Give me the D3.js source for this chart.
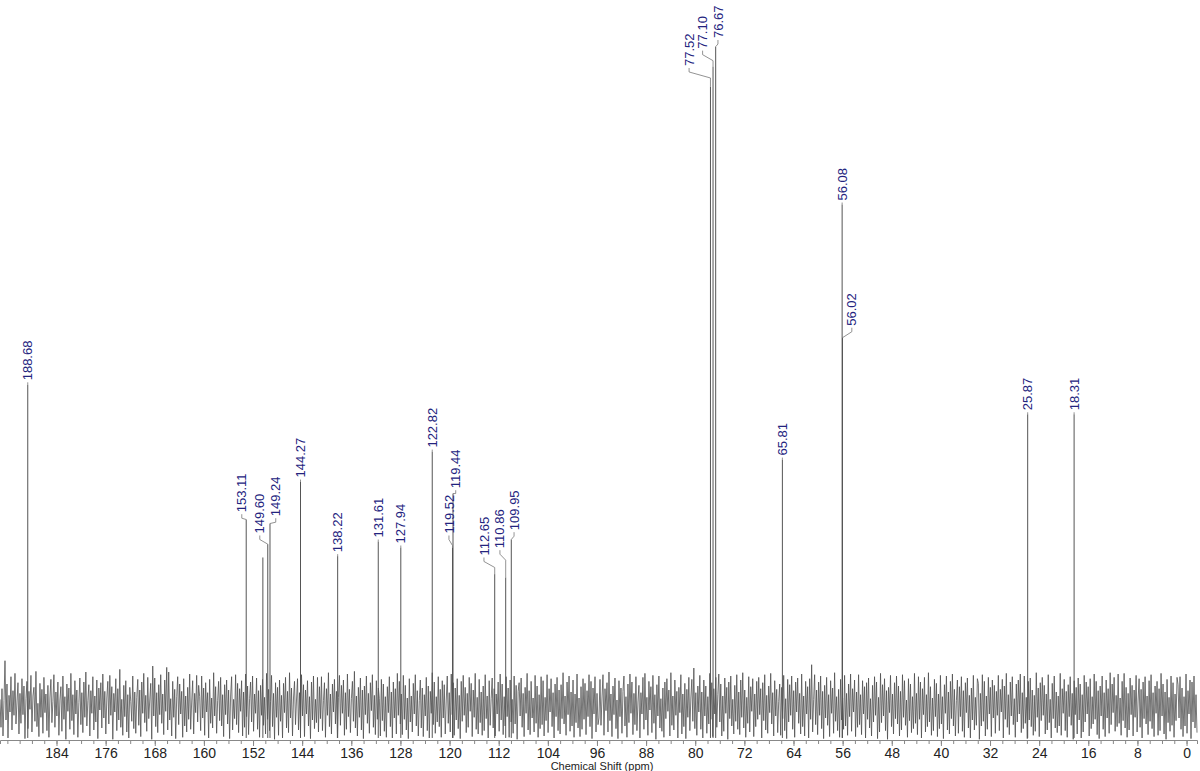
<!DOCTYPE html>
<html>
<head>
<meta charset="utf-8">
<script src="https://cdn.jsdelivr.net/npm/d3@7"></script>
<style>
  html, body { margin: 0; padding: 0; background: #fff; }
  svg { display: block; }
</style>
</head>
<body>
<svg id="chart" width="1200" height="771"></svg>
<script>
// Peaks: position (ppm) and height (intensity units, baseline = 0)
const peakPpm = [188.68, 153.11, 150.40, 149.60, 149.24, 144.27, 138.22, 131.61, 127.94, 122.82,
                 119.52, 119.44, 112.65, 110.86, 109.95, 77.52, 77.10, 76.67, 65.81, 56.08,
                 56.02, 25.87, 18.31];
const peakHeight = [482, 280, 223, 243, 274, 337, 225, 247, 238, 382,
                    238, 319, 198, 193, 250, 930, 960, 990, 370, 753,
                    553, 438, 438];

// Peak labels: text, where the label sits (ppm) and the level of its lower end
const labelText = ['188.68', '153.11', null, '149.60', '149.24', '144.27', '138.22', '131.61', '127.94', '122.82',
                   '119.52', '119.44', '112.65', '110.86', '109.95', '77.52', '77.10', '76.67', '65.81', '56.08',
                   '56.02', '25.87', '18.31'];
const labelPpm = [188.68, 153.83, null, 150.9, 148.3, 144.27, 138.22, 131.61, 127.94, 122.82,
                  120.1, 119.0, 114.4, 111.8, 109.5, 81.0, 78.8, 76.3, 65.81, 56.08,
                  54.5, 25.87, 18.31];
const labelLevel = [489, 291, null, 259, 285, 343, 231, 253, 244, 388,
                    259, 327, 226, 237, 264, 961, 987, 1003, 376, 759,
                    571, 444, 444];

// Axis tick labels (ppm)
const tickLabels = [184, 176, 168, 160, 152, 144, 136, 128, 120, 112, 104, 96, 88, 80, 72, 64, 56, 48, 40, 32, 24, 16, 8, 0];

// Baseline noise, read as a continuous trace from left (193 ppm) to right (-2 ppm)
const noise = [
  10,-32,26,-45,8,68,-21,33,-48,16,-9,44,-36,23,-14,49,-27,6,35,-42,
  19,-26,41,-13,30,-49,11,37,-34,22,-5,46,-39,15,28,-23,52,-31,4,-46,
  34,-17,25,-41,43,-10,18,-37,31,-47,12,40,-25,7,47,-32,21,-15,36,-44,
  9,29,-38,45,-20,14,-50,33,-8,27,-35,49,-22,17,-43,38,-12,24,-47,5,
  42,-28,20,-40,36,-17,51,-30,8,32,-45,23,-11,44,-36,15,-24,39,-49,27,
  -6,35,-33,48,-18,22,-42,12,37,-27,46,-14,29,-50,19,-9,41,-37,26,-21,
  55,-32,10,-44,31,-16,38,-39,17,-48,28,7,-23,45,-34,21,-41,13,40,-29,
  24,-46,36,-11,49,-25,16,-38,43,-19,9,34,-50,60,-15,42,-31,20,-40,32,
  -13,47,-26,18,-43,39,-8,58,-36,51,-21,11,-45,37,-17,25,-49,14,44,-28,
  33,-12,22,-47,41,-30,15,-39,28,-20,48,-35,6,38,-42,19,-10,46,-24,31,
  14,-37,45,-18,27,-44,35,-9,20,-48,40,-26,12,-33,50,-15,29,-41,8,37,
  -22,43,-30,17,-46,32,-13,39,-27,24,-49,15,44,-36,10,-19,47,-28,34,-40,
  26,-8,38,-45,21,-32,48,-16,30,-43,11,36,-24,45,-38,18,-11,42,-35,23,
  -47,31,-14,40,-29,13,-42,49,-20,25,-37,7,46,-31,19,-50,35,-17,28,-44,
  39,-23,16,-48,34,-10,43,-33,22,-40,50,-18,27,-45,12,37,-28,9,41,-36,
  20,-41,47,-15,32,-46,24,-12,38,-30,14,-49,36,-21,45,-34,10,-25,43,-39,
  29,-19,44,-37,8,35,-47,26,-14,50,-31,18,-42,33,-9,40,-27,22,-48,13,
  46,-29,31,-11,39,-44,20,-35,48,-16,25,-40,11,37,-23,52,-33,15,-45,28,
  -17,42,-36,24,-49,30,-13,45,-26,19,-41,35,-7,47,-32,16,-43,38,-20,27,
  11,-45,40,-22,33,-38,14,-47,29,-10,44,-31,21,-48,36,-18,26,-42,49,-14,
  37,-27,18,-43,46,-20,31,-36,12,-49,41,-24,15,-39,34,-12,47,-30,23,-45,
  8,39,-33,27,-46,17,-15,43,-37,30,-48,22,-11,50,-28,36,-41,14,-24,44,
  -31,25,-47,38,-18,32,-42,9,45,-26,20,-39,48,-13,35,-44,27,-21,41,-34,
  16,-49,37,-23,46,-14,28,-40,19,-32,43,-8,34,-46,24,-17,49,-35,13,-42,
  40,-25,21,-44,30,-37,47,-19,15,-48,38,-29,11,42,-33,26,-45,18,-12,36,
  -38,48,-21,33,-43,14,-30,44,-16,27,-47,39,-24,10,-41,45,-27,31,-50,22,
  35,-15,42,-32,19,-46,28,-11,49,-36,23,-43,37,-18,12,-39,46,-26,30,-47,
  17,-34,44,-28,38,-45,13,-22,47,-40,26,-9,41,-31,20,-48,33,-16,43,-37,
  24,-42,32,-19,50,-27,15,-44,36,-13,45,-38,21,-30,39,-47,18,-25,48,-33,
  12,-46,29,-35,41,-20,34,-43,23,-16,47,-31,37,-49,27,-12,44,-39,19,-28,
  -18,40,-29,12,47,-44,26,-7,35,-39,51,-22,18,-46,30,-13,42,-34,9,-49,
  38,-16,27,-41,22,45,-30,14,-47,33,-25,48,-11,36,-43,19,-28,44,-37,6,
  31,-48,20,-12,43,-35,49,-21,13,-44,37,-6,29,-40,46,-26,17,-50,32,-15,
  45,-33,11,-38,27,-47,36,-19,41,-8,24,-45,50,-29,15,-36,39,-14,22,-48,
  28,-10,47,-42,18,-31,34,-49,25,-17,43,-37,12,40,-23,57,-34,20,-44,30,
  -9,46,-35,21,-48,39,-15,30,-41,14,-27,49,-20,35,-46,26,-12,43,-32,17,
  48,-24,33,-45,15,-38,42,-11,28,-50,36,-19,45,-30,10,-42,31,-23,47,-35,
  21,-43,39,-17,50,-33,24,-47,13,-26,44,-39,29,-8,41,-46,18,-31,37,-20,
  43,-13,26,-48,35,-22,47,-36,16,-41,30,-10,49,-27,20,-45,38,-15,25,-40,
  7,33,-44,28,-19,46,-37,11,-49,40,-24,32,-14,45,-35,23,-47,36,-9,42,
  -26,19,-42,48,-31,15,-45,37,-12,29,-48,41,-20,62,-39,10,47,-28,24,-43,
  36,-14,45,-34,22,-49,31,-18,43,-29,17,-46,38,-11,27,-41,50,-23,14,-37,
  25,-47,40,-21,12,-35,46,-30,19,-44,33,-16,48,-38,26,-9,39,-46,21,-32,
  47,-28,17,-43,38,-12,29,-48,35,-20,42,-33,11,-45,31,-24,44,-14,36,-49,
  13,-39,49,-25,32,-15,41,-37,23,-50,28,-10,46,-31,18,-42,35,-19,45,-27,
  30,-45,22,-36,47,-17,38,-29,9,-47,41,-22,33,-40,14,-34,49,-26,19,-43,
  44,-20,36,-48,26,-13,43,-39,17,-31,50,-24,29,-44,12,-37,40,-16,34,-46,
  18,-34,46,-27,14,-49,32,-11,45,-36,21,-42,37,-19,48,-30,25,-45,8,39,
  -41,29,-16,44,-38,23,-47,35,-10,42,-33,16,-48,27,-21,46,-36,13,-29,41,
  34,-50,19,-30,47,-23,37,-45,15,-35,43,-12,28,-46,39,-18,31,-41,22,-14,
  46,-37,25,-9,40,-48,30,-20,49,-32,17,-43,36,-15,44,-28,11,-47,33,-24,
  39,-12,48,-40,20,-34,45,-26,13,-49,37,-21,42,-31,24,-44,16,-38,50,-17,
  27,-46,35,-22,43,-14,31,-42,18,-36,47,-25,10,-48,34,-19,45,-33,21,-40,
  15,-30,49,-44,26,-11,40,-37,22,-47,32,-16,44,-29,19,-50,38,-13,28,-42,
  42,-21,33,-48,17,-39,46,-24,36,-12,29,-45,41,-34,14,-27,48,-20,37,-43,
  23,-49,30,-15,45,-35,20,-46,39,-18,26,-41,50,-28,33,-10,43,-38,16,-31,
  48,-26,12,-44,37,-22,49,-33,28,-47,19,-36,42,-13,31,-45,24,-17,46,-39,
  9,41,-32,25,-48,36,-19,44,-27,15,-43,38,-23,47,-34,20,-46,30,-11,37,
  -44,26,-37,49,-15,33,-42,21,-50,40,-25,13,-38,45,-29,35,-47,18,-22,43,
  32,-18,44,-35,27,-46,14,-30,48,-41,23,-12,39,-49,36,-24,45,-33,17,-40
];
const noiseStart = 193.2, noiseEnd = -1.7;

const svg = d3.select('#chart');
const font = '"Liberation Sans", Arial, sans-serif';

const x = d3.scaleLinear().domain([193.2, -1.7]).range([0, 1197]);
const y = d3.scaleLinear().domain([0, 1000]).range([706, 40]);
const axisY = 740;

// noise trace
const step = (noiseStart - noiseEnd) / (noise.length - 1);
svg.append('path')
    .datum(noise)
    .attr('fill', 'none')
    .attr('stroke', '#4a4a4a')
    .attr('stroke-width', 0.75)
    .attr('d', d3.line()
        .x((d, i) => x(noiseStart - i * step))
        .y(d => Math.min(y(d), axisY)));

// peaks
svg.append('g').selectAll('line')
    .data(peakPpm)
    .join('line')
    .attr('x1', d => x(d)).attr('x2', d => x(d))
    .attr('y1', y(-48))
    .attr('y2', (d, i) => y(peakHeight[i]))
    .attr('stroke', '#555')
    .attr('stroke-width', 1);

// label leaders and texts
const labelIdx = d3.range(peakPpm.length).filter(i => labelText[i]);
svg.append('g').selectAll('path')
    .data(labelIdx)
    .join('path')
    .attr('fill', 'none')
    .attr('stroke', '#777')
    .attr('stroke-width', 0.8)
    .attr('d', i => {
        const lx = x(labelPpm[i]), ly = y(labelLevel[i]) + 2;
        const px = x(peakPpm[i]), py = y(peakHeight[i]);
        if (Math.abs(lx - px) < 0.5) return `M${lx},${ly}L${px},${py}`;
        const by = Math.min(ly + 4, py);
        const cy = Math.min(ly + 10, py);
        return `M${lx},${ly}L${lx},${by}L${px},${cy}L${px},${py}`;
    });

svg.append('g').selectAll('text')
    .data(labelIdx)
    .join('text')
    .attr('transform', i => `translate(${x(labelPpm[i])},${y(labelLevel[i])}) rotate(-90)`)
    .attr('dy', '0.35em')
    .attr('text-anchor', 'start')
    .attr('fill', '#23237e')
    .style('font-family', font)
    .style('font-size', '13px')
    .text(i => labelText[i]);

// axis
const minor = d3.range(0, 193, 2);
svg.append('g')
    .attr('transform', `translate(0,${axisY})`)
    .call(d3.axisBottom(x).tickValues(minor).tickSize(4).tickFormat(''))
    .call(g => g.select('.domain').attr('stroke', '#888'))
    .call(g => g.selectAll('.tick line').attr('stroke', '#888'));

svg.append('g')
    .attr('transform', `translate(0,${axisY})`)
    .call(d3.axisBottom(x).tickValues(tickLabels).tickSize(6).tickPadding(2).tickFormat(d3.format('d')))
    .call(g => g.select('.domain').remove())
    .call(g => g.selectAll('.tick line').attr('stroke', '#888'))
    .call(g => g.selectAll('.tick text')
        .attr('fill', '#222')
        .style('font-family', font)
        .style('font-size', '14px'));

svg.append('text')
    .attr('x', 602).attr('y', 770)
    .attr('text-anchor', 'middle')
    .attr('fill', '#222')
    .style('font-family', font)
    .style('font-size', '11px')
    .text('Chemical Shift (ppm)');
</script>
</body>
</html>
